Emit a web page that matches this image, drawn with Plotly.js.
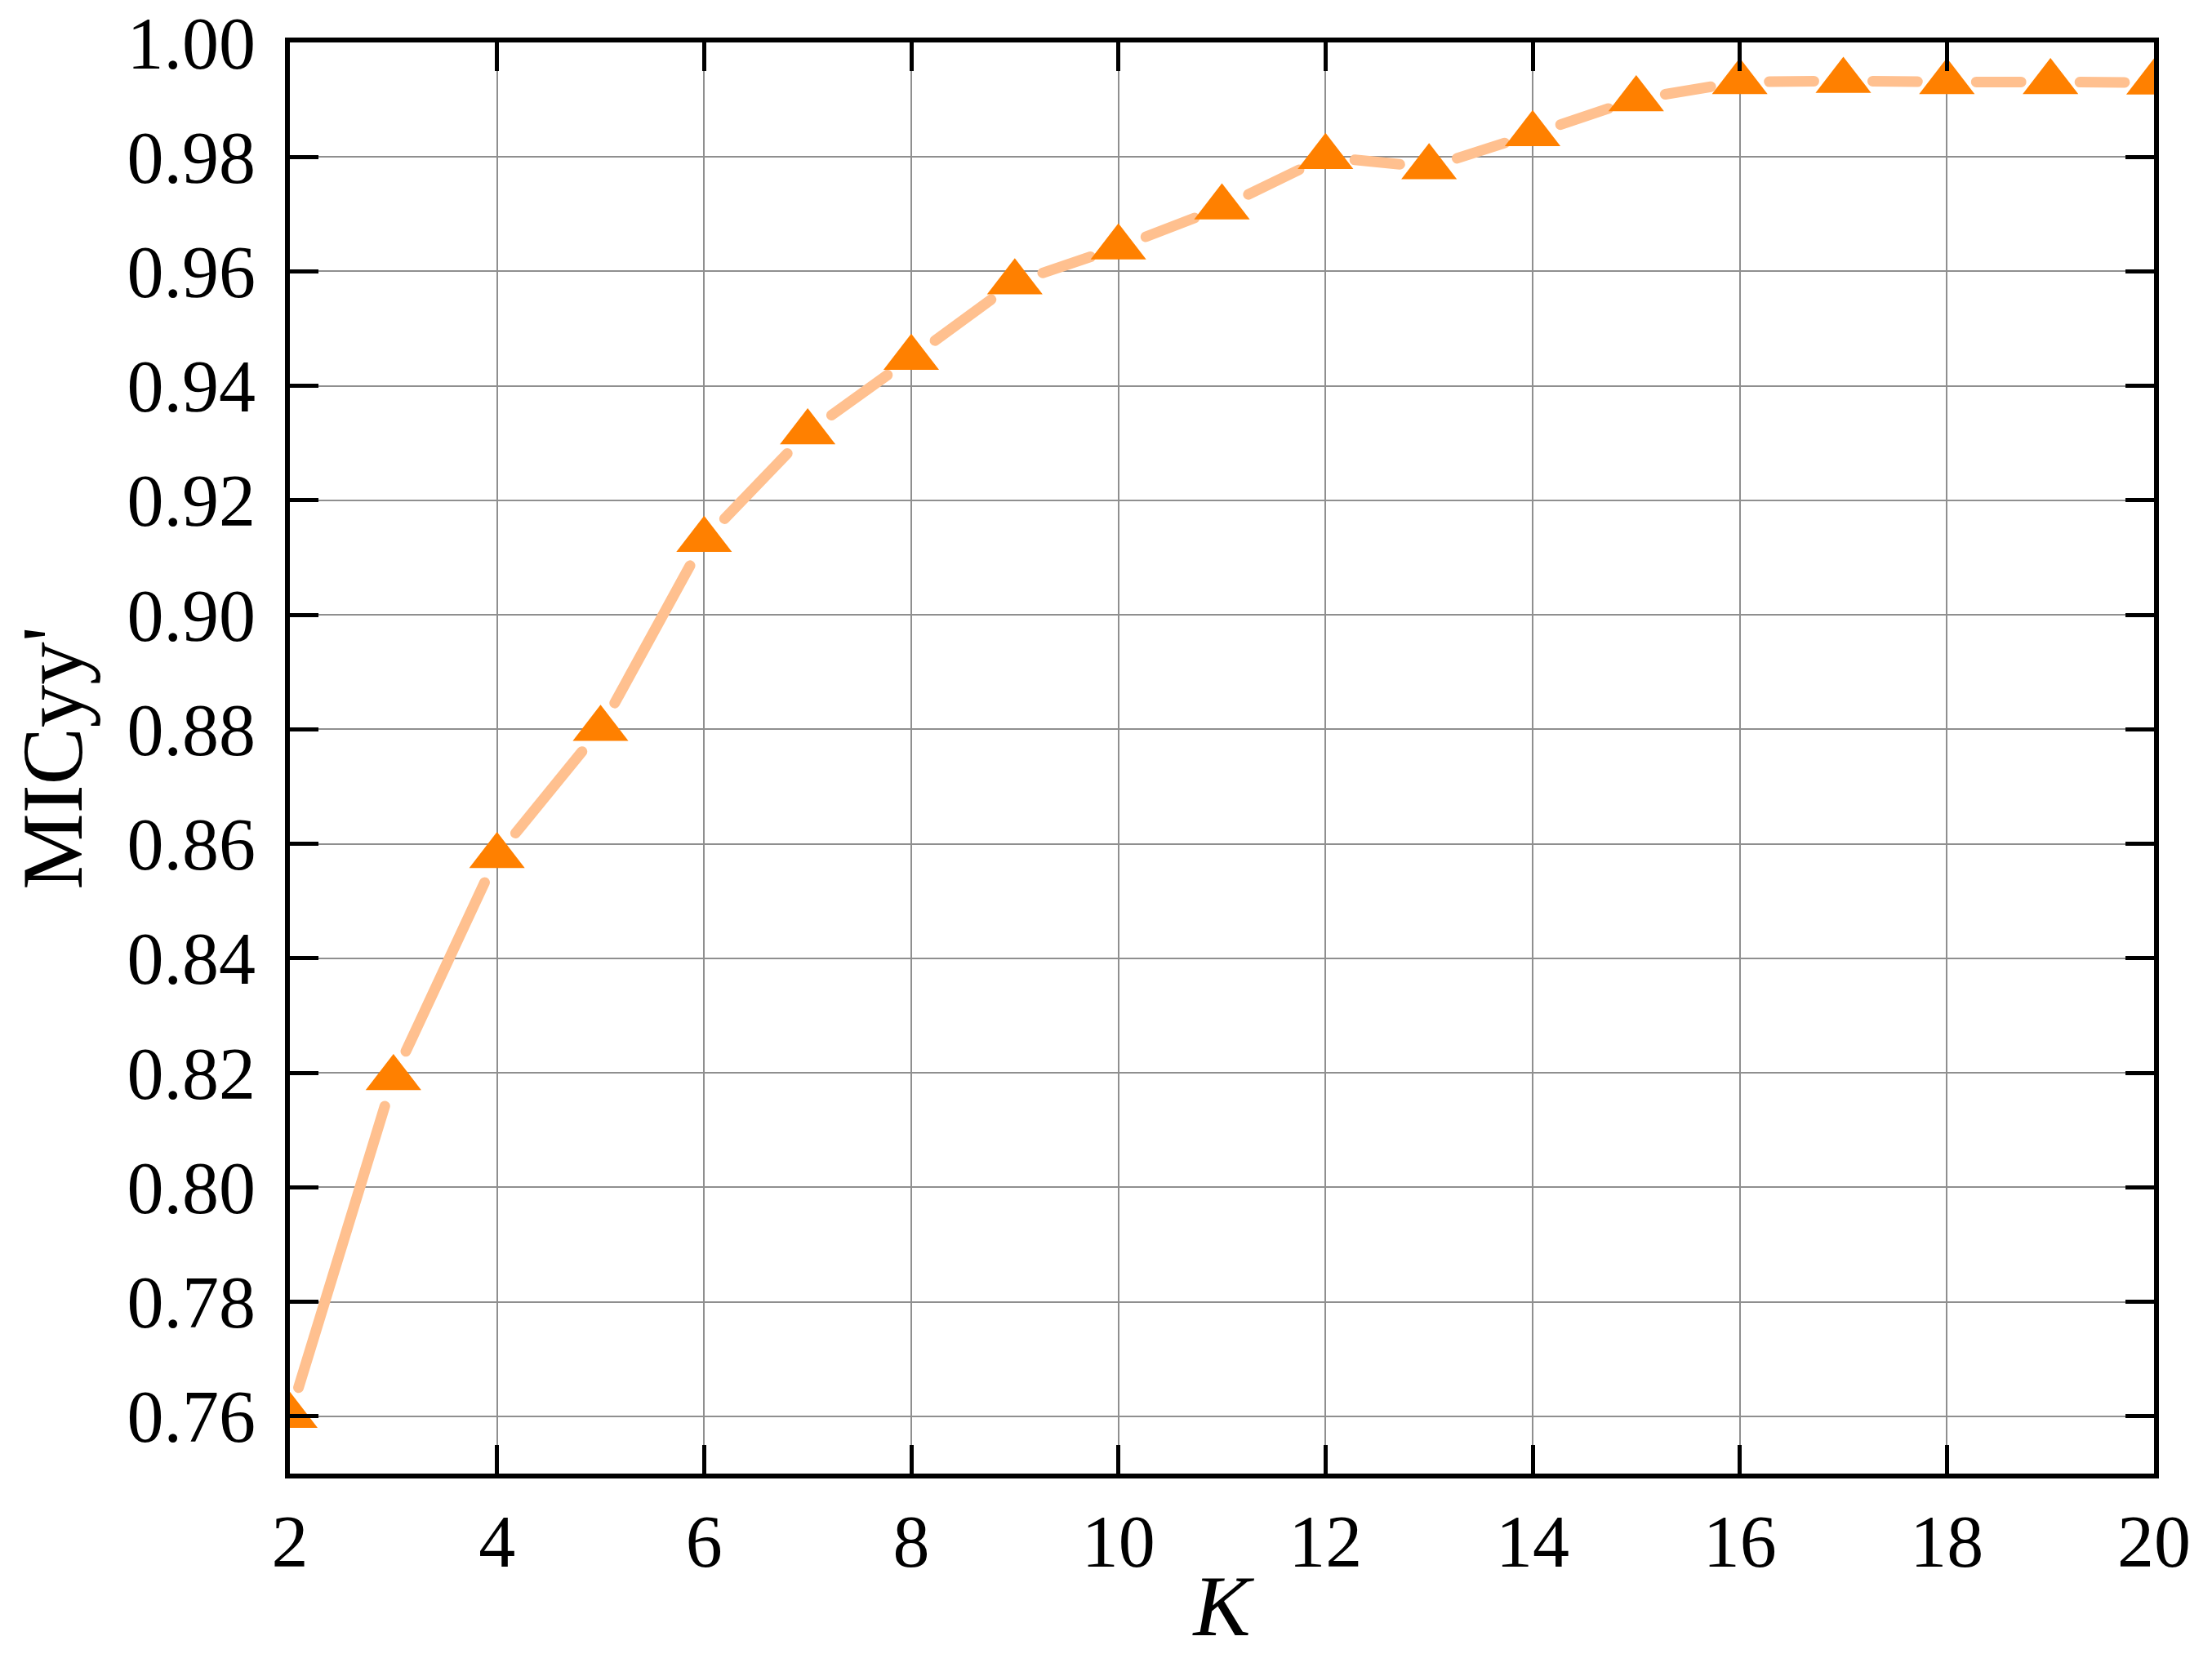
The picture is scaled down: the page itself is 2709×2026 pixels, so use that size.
<!DOCTYPE html>
<html>
<head>
<meta charset="utf-8">
<script src="https://cdn.plot.ly/plotly-3.0.1.min.js"></script>
<style>
    html, body { margin: 0; padding: 0; background: #fff; }
    #chart { width: 2709px; height: 2026px; }
    /* Origin draws the line with round ends */
    .scatterlayer .js-line { stroke-linecap: round; }
</style>
</head>
<body>
<div id="chart"></div>
<script>
const kValues = [2, 3, 4, 5, 6, 7, 8, 9, 10, 11, 12, 13, 14, 15, 16, 17, 18, 19, 20];
const micValues = [0.7601, 0.8191, 0.8579, 0.8801, 0.9131, 0.9319, 0.9449, 0.9581, 0.9642, 0.9712,
                   0.9800, 0.9782, 0.9840, 0.9901, 0.9931, 0.9933, 0.9931, 0.9931, 0.9930];
const xTickVals = [2, 4, 6, 8, 10, 12, 14, 16, 18, 20];
const yTickVals = [0.76, 0.78, 0.80, 0.82, 0.84, 0.86, 0.88, 0.90, 0.92, 0.94, 0.96, 0.98, 1.00];

const W = 2709, H = 2026;
const margin = {l: 355, r: 71, t: 52, b: 221};
const xRange = [2, 20], yRange = [0.75, 1.00];
const lineColor = '#FFC08F';
const markerColor = '#FF8000';
const font = 'Liberation Serif, Times New Roman, serif';

// px per data unit, used only to leave a gap round each marker
const xScale = (W - margin.l - margin.r) / (xRange[1] - xRange[0]);
const yScale = (H - margin.t - margin.b) / (yRange[1] - yRange[0]);
const gapToSymbol = 36;

const traces = [];
for (let i = 0; i < kValues.length - 1; i++) {
    const len = Math.hypot((kValues[i + 1] - kValues[i]) * xScale,
                           (micValues[i + 1] - micValues[i]) * yScale);
    const dash = Math.max(len - 2 * gapToSymbol, 0);
    traces.push({
        x: [kValues[i], kValues[i + 1]],
        y: [micValues[i], micValues[i + 1]],
        type: 'scatter',
        mode: 'lines',
        hoverinfo: 'skip',
        line: {
            color: lineColor,
            width: 13,
            dash: '0px,' + gapToSymbol + 'px,' + dash.toFixed(1) + 'px,' + (len + 100).toFixed(1) + 'px'
        }
    });
}

traces.push({
    x: kValues,
    y: micValues,
    type: 'scatter',
    mode: 'markers',
    marker: {
        symbol: 'triangle-up',
        size: 59,
        color: markerColor,
        line: {width: 0}
    }
});

const axisCommon = {
    showline: true,
    linecolor: '#000',
    linewidth: 6,
    mirror: 'ticks',
    ticks: 'inside',
    ticklen: 35,
    tickwidth: 5,
    tickcolor: '#000',
    showgrid: true,
    gridcolor: '#8f8f8f',
    gridwidth: 2,
    zeroline: false,
    tickfont: {family: font, size: 90, color: '#000'}
};

const layout = {
    width: W,
    height: H,
    margin: margin,
    paper_bgcolor: '#fff',
    plot_bgcolor: '#fff',
    showlegend: false,
    xaxis: Object.assign({}, axisCommon, {
        range: xRange,
        tickvals: xTickVals,
        ticklabelstandoff: 0,
        title: {
            text: '<i>K</i>',
            font: {family: font, size: 105, color: '#000'},
            standoff: 20
        }
    }),
    yaxis: Object.assign({}, axisCommon, {
        range: yRange,
        tickvals: yTickVals,
        tickformat: '.2f',
        ticklabelstandoff: 18,
        title: {
            text: "MICyy'",
            font: {family: font, size: 105, color: '#000'},
            standoff: 22
        }
    })
};

Plotly.newPlot('chart', traces, layout, {displayModeBar: false, staticPlot: true});
</script>
</body>
</html>
